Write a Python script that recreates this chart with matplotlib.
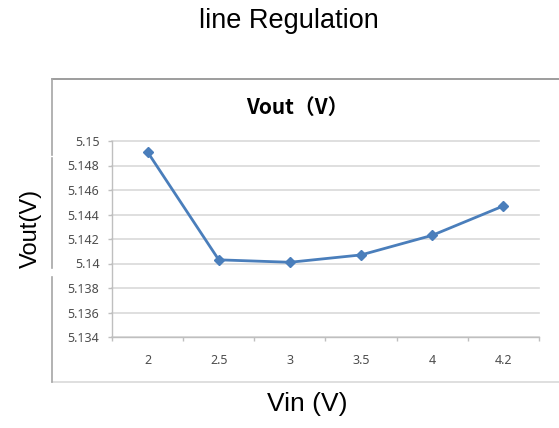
import matplotlib
matplotlib.use("Agg")
import matplotlib.pyplot as plt
from matplotlib.lines import Line2D

W, H = 559, 428

vin_labels = ["2", "2.5", "3", "3.5", "4", "4.2"]
vout = [5.1491, 5.1403, 5.1401, 5.1407, 5.1423, 5.1447]
y_ticks = [5.134, 5.136, 5.138, 5.140, 5.142, 5.144, 5.146, 5.148, 5.150]
y_tick_labels = ["5.134", "5.136", "5.138", "5.14", "5.142", "5.144", "5.146", "5.148", "5.15"]


def fx(px):
    return px / W


def fy(py):
    return 1 - py / H


fig = plt.figure(figsize=(W / 100, H / 100), dpi=100)
fig.patch.set_facecolor("white")

# chart box border (excel-like), left side broken where the outer label sits
def border(x0, y0, x1, y1, color):
    fig.add_artist(Line2D([fx(x0), fx(x1)], [fy(y0), fy(y1)],
                          transform=fig.transFigure, color=color, lw=1.2))

border(52, 79, 559, 79, "#8c8c8c")
border(52, 382, 559, 382, "#d9d9d9")
border(52, 79, 52, 155, "#a6a6a6")
border(52, 158, 52, 268, "#a6a6a6")
border(52, 277, 52, 382, "#a6a6a6")

ax = fig.add_axes([fx(112), fy(337), (539 - 112) / W, (337 - 141) / H])
x = list(range(len(vin_labels)))
ax.plot(x, vout, color="#4a7ebb", lw=2.0, marker="D", markersize=5.5,
        markerfacecolor="#4a7ebb", markeredgecolor="#4a7ebb", zorder=3)

ax.set_xlim(-0.5, len(vin_labels) - 0.5)
ax.set_ylim(5.134, 5.150)
ax.set_yticks(y_ticks)
ax.set_yticklabels(y_tick_labels)
ax.set_xticks(x)
ax.set_xticklabels(vin_labels)
ax.set_xticks([i - 0.5 for i in range(len(vin_labels) + 1)], minor=True)

for s in ["top", "right"]:
    ax.spines[s].set_visible(False)
for s in ["left", "bottom"]:
    ax.spines[s].set_color("#bfbfbf")
    ax.spines[s].set_linewidth(1.0)

ax.tick_params(axis="x", which="major", length=0, pad=12,
               labelsize=9, labelcolor="#4d4d4d")
ax.tick_params(axis="x", which="minor", length=3, color="#bfbfbf", width=1.0)
ax.tick_params(axis="y", length=3, color="#bfbfbf", width=1.0, pad=6,
               labelsize=9, labelcolor="#4d4d4d")
for lbl in ax.get_xticklabels() + ax.get_yticklabels():
    lbl.set_family("Noto Sans")

ax.yaxis.grid(True, color="#d9d9d9", lw=1.2)
for gl in ax.yaxis.get_gridlines():
    gl.set_clip_on(False)
ax.set_axisbelow(True)

# titles and outer labels
fig.text(fx(289), fy(21), "line Regulation", ha="center", va="center",
         fontsize=19.5, family="Liberation Sans")
fig.text(fx(297), fy(107), "Vout（V）", ha="center", va="center",
         fontsize=15, fontweight="bold", family=["Noto Sans CJK SC", "DejaVu Sans"])
fig.text(fx(31), fy(228), "Vout(V)", ha="center", va="center", rotation=90,
         fontsize=17, family="Liberation Sans")
fig.text(fx(307), fy(404), "Vin (V)", ha="center", va="center",
         fontsize=19, family="Liberation Sans")

fig.savefig("out.png", dpi=100)
